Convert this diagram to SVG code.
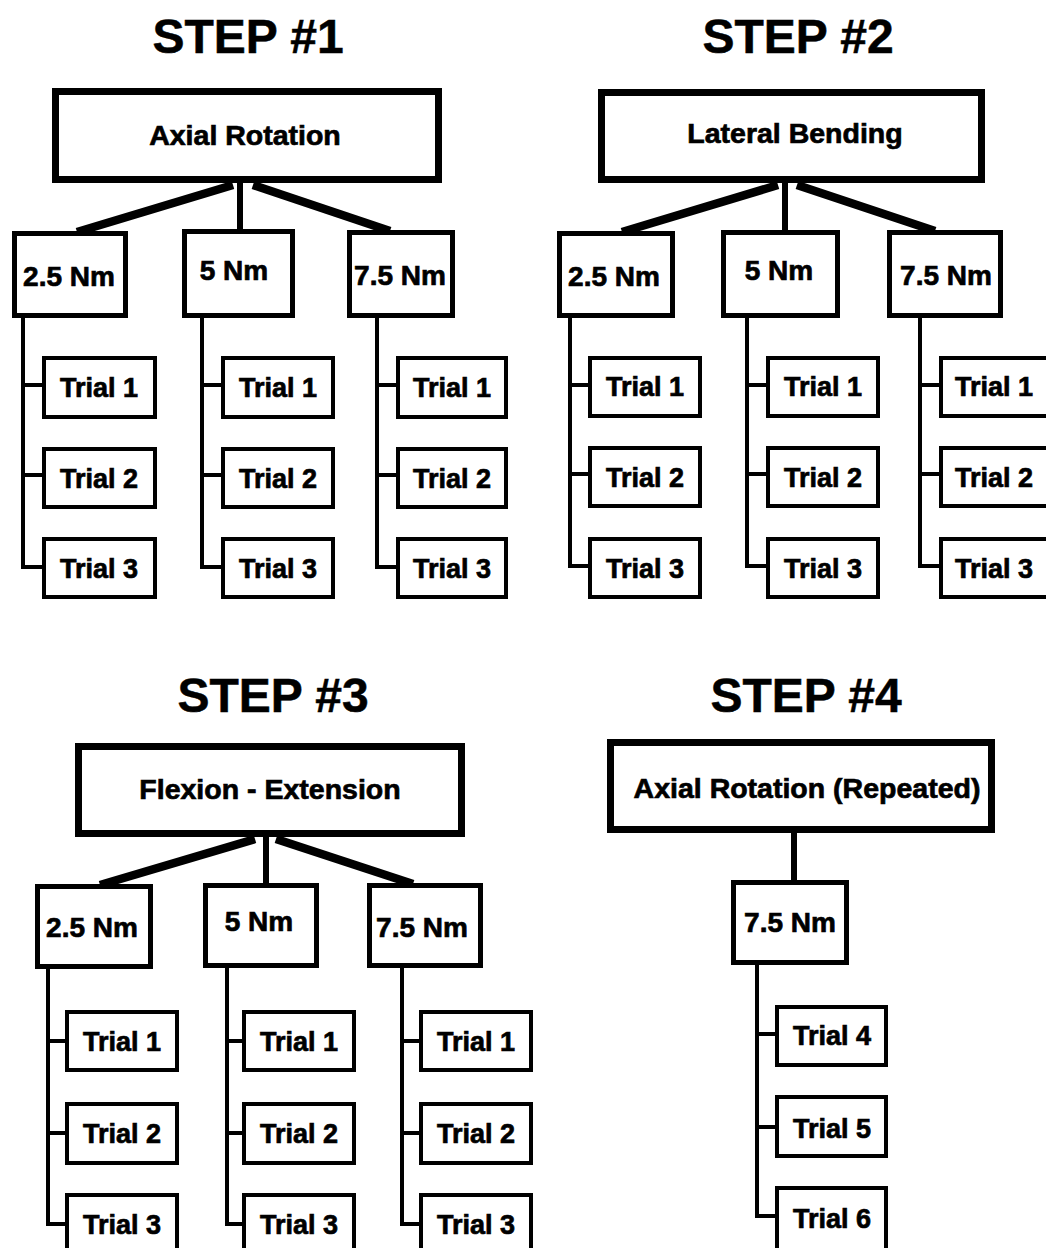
<svg xmlns="http://www.w3.org/2000/svg" width="1046" height="1248" viewBox="0 0 1046 1248">
<style>
text{font-family:"Liberation Sans",Arial,sans-serif;font-weight:bold;fill:#000;text-anchor:middle;stroke:#000;stroke-width:0.7}
.h{font-size:48px;stroke-width:0.5}
.l{font-size:28.5px}
.m{font-size:28px}
.t{font-size:27px}
.top{fill:#fff;stroke:#000;stroke-width:7}
.sub{fill:#fff;stroke:#000;stroke-width:5}
.tr{fill:#fff;stroke:#000;stroke-width:4}
.thick{stroke:#000;stroke-width:8.5;fill:none;stroke-linecap:butt}
.mid{stroke:#000;stroke-width:6;fill:none}
.thin{stroke:#000;stroke-width:4;fill:none}
</style>
<rect width="1046" height="1248" fill="#fff"/>
<g id="headings">
<text class="h" x="248" y="53">STEP #1</text>
<text class="h" x="798" y="53">STEP #2</text>
<text class="h" x="273" y="712">STEP #3</text>
<text class="h" x="806" y="712">STEP #4</text>
</g>
<g id="connectors">
<line class="thick" x1="233" y1="185" x2="77" y2="232"/>
<line class="mid" x1="240" y1="183" x2="240" y2="231"/>
<line class="thick" x1="253" y1="185" x2="390" y2="231"/>
<path class="thin" d="M23 318V567H42M23 385H42M23 475H42"/>
<path class="thin" d="M202 318V567H221M202 385H221M202 475H221"/>
<path class="thin" d="M377 318V567H396M377 385H396M377 475H396"/>
<line class="thick" x1="778" y1="185" x2="622" y2="232"/>
<line class="mid" x1="785" y1="183" x2="785" y2="231"/>
<line class="thick" x1="797" y1="185" x2="935" y2="231"/>
<path class="thin" d="M570 318V566H588M570 385H588M570 474H588"/>
<path class="thin" d="M747 318V566H766M747 385H766M747 474H766"/>
<path class="thin" d="M920 318V566H939M920 385H939M920 474H939"/>
<line class="thick" x1="255" y1="839" x2="100" y2="885"/>
<line class="mid" x1="266" y1="837" x2="266" y2="884"/>
<line class="thick" x1="276" y1="839" x2="413" y2="884"/>
<path class="thin" d="M48 968V1224H65M48 1041H65M48 1133H65"/>
<path class="thin" d="M227 968V1224H242M227 1041H242M227 1133H242"/>
<path class="thin" d="M402 968V1224H419M402 1041H419M402 1133H419"/>
<line class="mid" x1="794" y1="833" x2="794" y2="881"/>
<path class="thin" d="M757 965V1216H775M757 1034H775M757 1127H775"/>
</g>
<g id="s1-top"><rect class="top" x="55.5" y="91.5" width="383" height="88"/><text class="l" x="245" y="145">Axial Rotation</text></g>
<g id="s1-25"><rect class="sub" x="14.5" y="233.5" width="111" height="82"/><text class="m" x="69" y="286">2.5 Nm</text></g>
<g id="s1-5"><rect class="sub" x="184.5" y="231.5" width="108" height="84"/><text class="m" x="234" y="280">5 Nm</text></g>
<g id="s1-75"><rect class="sub" x="349.5" y="232.5" width="103" height="83"/><text class="m" x="400" y="285">7.5 Nm</text></g>
<g id="s1-a1"><rect class="tr" x="44" y="358" width="111" height="59"/><text class="t" x="99" y="397">Trial 1</text></g>
<g id="s1-a2"><rect class="tr" x="44" y="449" width="111" height="58"/><text class="t" x="99" y="488">Trial 2</text></g>
<g id="s1-a3"><rect class="tr" x="44" y="539" width="111" height="58"/><text class="t" x="99" y="578">Trial 3</text></g>
<g id="s1-b1"><rect class="tr" x="223" y="358" width="110" height="59"/><text class="t" x="278" y="397">Trial 1</text></g>
<g id="s1-b2"><rect class="tr" x="223" y="449" width="110" height="58"/><text class="t" x="278" y="488">Trial 2</text></g>
<g id="s1-b3"><rect class="tr" x="223" y="539" width="110" height="58"/><text class="t" x="278" y="578">Trial 3</text></g>
<g id="s1-c1"><rect class="tr" x="398" y="358" width="108" height="59"/><text class="t" x="452" y="397">Trial 1</text></g>
<g id="s1-c2"><rect class="tr" x="398" y="449" width="108" height="58"/><text class="t" x="452" y="488">Trial 2</text></g>
<g id="s1-c3"><rect class="tr" x="398" y="539" width="108" height="58"/><text class="t" x="452" y="578">Trial 3</text></g>

<g id="s2-top"><rect class="top" x="601.5" y="92.5" width="380" height="87"/><text class="l" x="795" y="143">Lateral Bending</text></g>
<g id="s2-25"><rect class="sub" x="559.5" y="233.5" width="113" height="82"/><text class="m" x="614" y="286">2.5 Nm</text></g>
<g id="s2-5"><rect class="sub" x="723.5" y="232.5" width="114" height="83"/><text class="m" x="779" y="280">5 Nm</text></g>
<g id="s2-75"><rect class="sub" x="889.5" y="232.5" width="111" height="83"/><text class="m" x="946" y="285">7.5 Nm</text></g>
<g id="s2-a1"><rect class="tr" x="590" y="358" width="110" height="58"/><text class="t" x="645" y="396">Trial 1</text></g>
<g id="s2-a2"><rect class="tr" x="590" y="448" width="110" height="58"/><text class="t" x="645" y="487">Trial 2</text></g>
<g id="s2-a3"><rect class="tr" x="590" y="539" width="110" height="58"/><text class="t" x="645" y="578">Trial 3</text></g>
<g id="s2-b1"><rect class="tr" x="768" y="358" width="110" height="58"/><text class="t" x="823" y="396">Trial 1</text></g>
<g id="s2-b2"><rect class="tr" x="768" y="448" width="110" height="58"/><text class="t" x="823" y="487">Trial 2</text></g>
<g id="s2-b3"><rect class="tr" x="768" y="539" width="110" height="58"/><text class="t" x="823" y="578">Trial 3</text></g>
<g id="s2-c1"><rect class="tr" x="941" y="358" width="112" height="58"/><text class="t" x="994" y="396">Trial 1</text></g>
<g id="s2-c2"><rect class="tr" x="941" y="448" width="112" height="58"/><text class="t" x="994" y="487">Trial 2</text></g>
<g id="s2-c3"><rect class="tr" x="941" y="539" width="112" height="58"/><text class="t" x="994" y="578">Trial 3</text></g>

<g id="s3-top"><rect class="top" x="78.5" y="746.5" width="383" height="87"/><text class="l" x="270" y="799">Flexion - Extension</text></g>
<g id="s3-25"><rect class="sub" x="37.5" y="886.5" width="113" height="80"/><text class="m" x="92" y="937">2.5 Nm</text></g>
<g id="s3-5"><rect class="sub" x="205.5" y="885.5" width="111" height="80"/><text class="m" x="259" y="931">5 Nm</text></g>
<g id="s3-75"><rect class="sub" x="369.5" y="885.5" width="111" height="80"/><text class="m" x="422" y="937">7.5 Nm</text></g>
<g id="s3-a1"><rect class="tr" x="67" y="1012" width="110" height="58"/><text class="t" x="122" y="1051">Trial 1</text></g>
<g id="s3-a2"><rect class="tr" x="67" y="1104" width="110" height="59"/><text class="t" x="122" y="1143">Trial 2</text></g>
<g id="s3-a3"><rect class="tr" x="67" y="1195" width="110" height="60"/><text class="t" x="122" y="1234">Trial 3</text></g>
<g id="s3-b1"><rect class="tr" x="244" y="1012" width="110" height="58"/><text class="t" x="299" y="1051">Trial 1</text></g>
<g id="s3-b2"><rect class="tr" x="244" y="1104" width="110" height="59"/><text class="t" x="299" y="1143">Trial 2</text></g>
<g id="s3-b3"><rect class="tr" x="244" y="1195" width="110" height="60"/><text class="t" x="299" y="1234">Trial 3</text></g>
<g id="s3-c1"><rect class="tr" x="421" y="1012" width="110" height="58"/><text class="t" x="476" y="1051">Trial 1</text></g>
<g id="s3-c2"><rect class="tr" x="421" y="1104" width="110" height="59"/><text class="t" x="476" y="1143">Trial 2</text></g>
<g id="s3-c3"><rect class="tr" x="421" y="1195" width="110" height="60"/><text class="t" x="476" y="1234">Trial 3</text></g>

<g id="s4-top"><rect class="top" x="610.5" y="742.5" width="381" height="87"/><text class="l" x="807" y="798">Axial Rotation (Repeated)</text></g>
<g id="s4-75"><rect class="sub" x="733.5" y="882.5" width="113" height="80"/><text class="m" x="790" y="932">7.5 Nm</text></g>
<g id="s4-t4"><rect class="tr" x="777" y="1007" width="109" height="58"/><text class="t" x="832" y="1045">Trial 4</text></g>
<g id="s4-t5"><rect class="tr" x="777" y="1097" width="109" height="59"/><text class="t" x="832" y="1138">Trial 5</text></g>
<g id="s4-t6"><rect class="tr" x="777" y="1188" width="109" height="62"/><text class="t" x="832" y="1228">Trial 6</text></g>
</svg>
